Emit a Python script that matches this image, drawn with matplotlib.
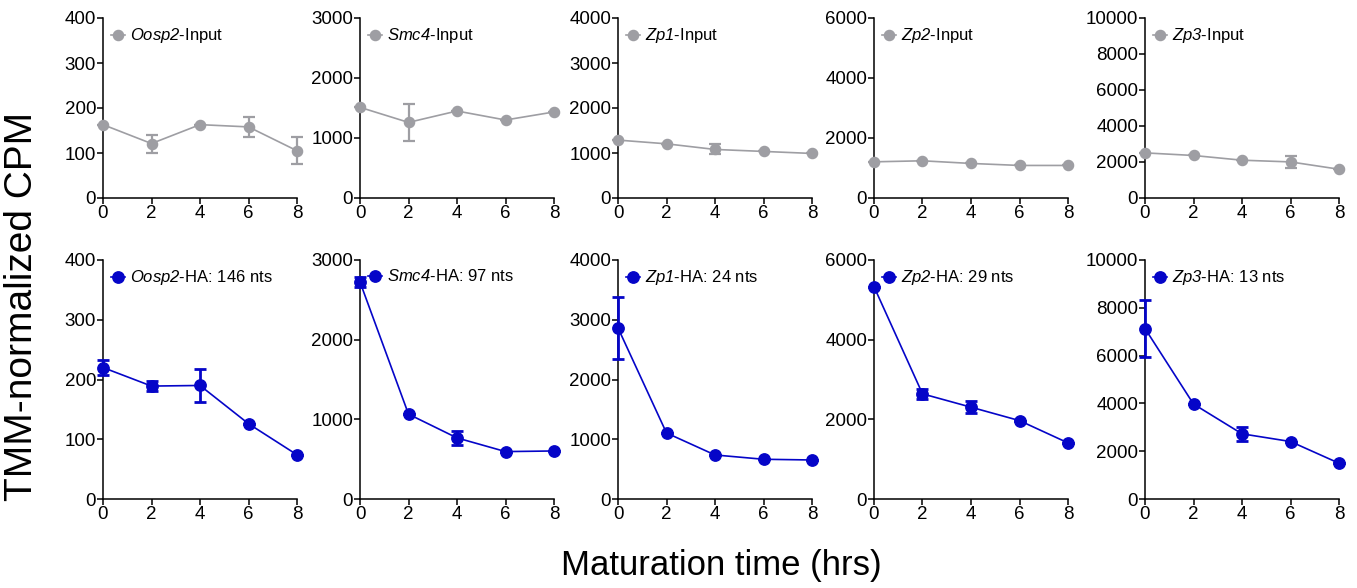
import matplotlib
matplotlib.use("Agg")
import matplotlib.pyplot as plt
from matplotlib.lines import Line2D

plt.rcParams['font.family'] = ['Liberation Sans', 'DejaVu Sans']
plt.rcParams['mathtext.fontset'] = 'custom'
plt.rcParams['mathtext.it'] = 'Liberation Sans:italic'
plt.rcParams['mathtext.rm'] = 'Liberation Sans:italic'

# ---- data ----
times = [0, 2, 4, 6, 8]
genes = ["Oosp2", "Smc4", "Zp1", "Zp2", "Zp3"]
ha_lengths = ["146", "97", "24", "29", "13"]
ymax = [400, 3000, 4000, 6000, 10000]
ystep = [100, 1000, 1000, 2000, 2000]

input_vals = [
    [163, 121, 163, 158, 105],
    [1511, 1260, 1450, 1300, 1434],
    [1287, 1204, 1079, 1035, 990],
    [1206, 1240, 1152, 1085, 1085],
    [2507, 2362, 2100, 2005, 1599],
]
input_err = [
    [0, 20, 0, 22, 30],
    [0, 307, 0, 0, 0],
    [0, 0, 110, 0, 0],
    [0, 0, 0, 0, 0],
    [0, 0, 0, 340, 0],
]
ha_vals = [
    [220, 189, 190, 126, 74],
    [2724, 1065, 767, 595, 603],
    [2863, 1105, 737, 665, 653],
    [5330, 2640, 2305, 1968, 1408],
    [7133, 3973, 2727, 2405, 1497],
]
ha_err = [
    [13, 9, 27, 0, 0],
    [65, 0, 90, 0, 0],
    [520, 0, 0, 0, 0],
    [0, 125, 155, 0, 0],
    [1210, 0, 300, 0, 0],
]

GREY = '#9e9ea3'
BLUE = '#0505c8'

W, H = 1357, 588
fig = plt.figure(figsize=(W / 100, H / 100), dpi=100)

lefts = [103, 360, 618, 874, 1145]
axw = 194
rows = [(18, 198), (260, 499)]  # (top, bottom) in pixels


def style(ax, top):
    for s in ['top', 'right']:
        ax.spines[s].set_visible(False)
    for s in ['left', 'bottom']:
        ax.spines[s].set_linewidth(1.1)
    ax.tick_params(direction='out', length=4, width=1.1, labelsize=13.5, pad=1)
    ax.set_xlim(0, 8)
    ax.set_xticks(times)
    ax.set_ylim(0, top)


for i, g in enumerate(genes):
    for r, (t, b) in enumerate(rows):
        ax = fig.add_axes([lefts[i] / W, 1 - b / H, axw / W, (b - t) / H])
        style(ax, ymax[i])
        ax.set_yticks(range(0, ymax[i] + 1, ystep[i]))
        if r == 0:
            vals, err, col = input_vals[i], input_err[i], GREY
            lab = r'$\mathrm{' + g + '}$-Input'
            ms, elw = 7.3, 1.6
        else:
            vals, err, col = ha_vals[i], ha_err[i], BLUE
            lab = r'$\mathrm{' + g + '}$-HA: ' + ha_lengths[i] + ' nts'
            ms, elw = 8.2, 2.0
        ax.errorbar(times, vals, yerr=err, color=col, marker='o', ms=ms,
                    lw=1.2, elinewidth=elw, capsize=4, capthick=elw,
                    clip_on=False, zorder=3)
        handle = Line2D([], [], color=col, marker='o', ms=ms, lw=1.2)
        ax.legend([handle], [lab], loc='upper left', frameon=False,
                  handlelength=0.8, handletextpad=0.3, borderaxespad=0.1,
                  borderpad=0.4, fontsize=12)

fig.text(22 / W, 1 - 306 / H, 'TMM-normalized CPM', rotation=90,
         ha='center', va='center', fontsize=28)
fig.text(721 / W, 1 - 565 / H, 'Maturation time (hrs)',
         ha='center', va='center', fontsize=25)

fig.savefig('out.png', dpi=100)
